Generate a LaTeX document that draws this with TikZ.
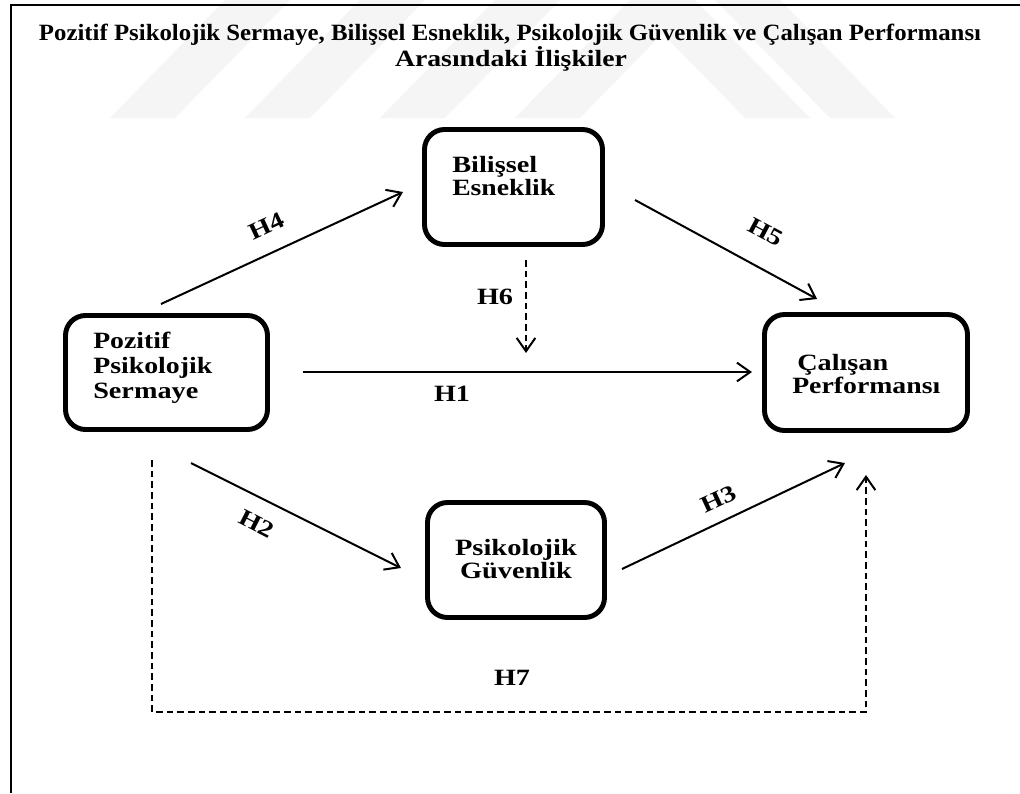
\documentclass[tikz,border=0pt]{standalone}
\usepackage{fontspec}
\setmainfont{Liberation Serif}
\usetikzlibrary{arrows.meta,calc}

% one drawing unit = one pixel of the 1020 x 793 canvas
\newdimen\pxu \pxu=0.75pt
% set text to a given width (in pixels), keeping its natural height
\newcommand\wfit[2]{\resizebox{#1\pxu}{\height}{#2}}

\begin{document}
\begin{tikzpicture}[x=0.75pt,y=-0.75pt,
  boxst/.style={draw, line width=3.7pt, rounded corners=15pt, inner sep=0pt, outer sep=0pt},
  boxtxt/.style={inner sep=0pt, font=\fontsize{17.5pt}{20pt}\selectfont\bfseries},
  hlab/.style={inner sep=0pt, font=\fontsize{17.5pt}{20pt}\selectfont\bfseries},
  ttl/.style={inner sep=0pt, font=\fontsize{17.5pt}{20pt}\selectfont\bfseries},
  link/.style={line width=1.5pt, -{Straight Barb[length=10pt,width=14pt,line width=1.5pt]}},
  dlink/.style={link, dash pattern=on 5pt off 3pt},
  wmark/.style={fill=black!4, draw=none}]

\useasboundingbox (0,0) rectangle (1020,793);
\fill[white] (0,0) rectangle (1020,793);

% faint watermark bands along the top
\foreach \b in {110,245,380,515}
  \fill[wmark] (\b,118) -- (\b+65,118) -- (\b+180,0) -- (\b+115,0) -- cycle;
\foreach \b in {745,830}
  \fill[wmark] (\b,118) -- (\b+65,118) -- (\b-50,0) -- (\b-115,0) -- cycle;

% page frame (left and top edges)
\draw[line width=1.8pt] (11,793) -- (11,5) -- (1020,5);

% title
\node[ttl, anchor=base] (t1) at (510,40) {\wfit{942}{Pozitif Psikolojik Sermaye, Bilişsel Esneklik, Psikolojik Güvenlik ve Çalışan Performansı}};
\node[ttl, anchor=base] (t2) at (511,66) {\wfit{232}{Arasındaki İlişkiler}};

% boxes
\node[boxst, minimum width=151.5pt, minimum height=85.5pt] (pps) at (166.5,372.5) {};
\node[boxst, minimum width=133.5pt, minimum height=86.25pt] (be) at (513.5,187) {};
\node[boxst, minimum width=152.25pt, minimum height=87pt] (cp) at (866,372.5) {};
\node[boxst, minimum width=132.75pt, minimum height=86.25pt] (pg) at (516,560) {};

% box texts
\node[boxtxt, anchor=base west] (pps1) at (93,348) {\wfit{77}{Pozitif}};
\node[boxtxt, anchor=base west] (pps2) at (93,373) {\wfit{119}{Psikolojik}};
\node[boxtxt, anchor=base west] (pps3) at (93,398) {\wfit{105}{Sermaye}};
\node[boxtxt, anchor=base west] (be1) at (452,172) {\wfit{85}{Bilişsel}};
\node[boxtxt, anchor=base west] (be2) at (452,195) {\wfit{103}{Esneklik}};
\node[boxtxt, anchor=base west] (cp1) at (797,370) {\wfit{91}{Çalışan}};
\node[boxtxt, anchor=base west] (cp2) at (792,393) {\wfit{148}{Performansı}};
\node[boxtxt, anchor=base] (pg1) at (516,555) {\wfit{122}{Psikolojik}};
\node[boxtxt, anchor=base] (pg2) at (516,578) {\wfit{112}{Güvenlik}};

% connector end points
\coordinate (h4a) at (161,304);  \coordinate (h4b) at (403,192);
\coordinate (h5a) at (635,200);  \coordinate (h5b) at (817,299);
\coordinate (h1a) at (303,372);  \coordinate (h1b) at (752,372);
\coordinate (h6a) at (526,260);  \coordinate (h6b) at (526,353);
\coordinate (h2a) at (191,463);  \coordinate (h2b) at (401,568);
\coordinate (h3a) at (622,569);  \coordinate (h3b) at (845,463);
\coordinate (h7a) at (152,460);  \coordinate (h7b) at (866,475);

% connectors
\draw[link] (h4a) -- (h4b);
\draw[link] (h5a) -- (h5b);
\draw[link] (h1a) -- (h1b);
\draw[dlink] (h6a) -- (h6b);
\draw[link] (h2a) -- (h2b);
\draw[link] (h3a) -- (h3b);
\draw[dlink] (h7a) -- (152,712) -- (866,712) -- (h7b);

% hypothesis labels
\node[hlab, rotate=25] (l4) at (267,226) {\wfit{36}{H4}};
\node[hlab, rotate=-28] (l5) at (766,232) {\wfit{36}{H5}};
\node[hlab] (l1) at (452,394) {\wfit{36}{H1}};
\node[hlab] (l6) at (495,297) {\wfit{36}{H6}};
\node[hlab, rotate=-27] (l2) at (257,524) {\wfit{36}{H2}};
\node[hlab, rotate=25] (l3) at (719,499) {\wfit{36}{H3}};
\node[hlab] (l7) at (512,678) {\wfit{36}{H7}};
\end{tikzpicture}
\end{document}
